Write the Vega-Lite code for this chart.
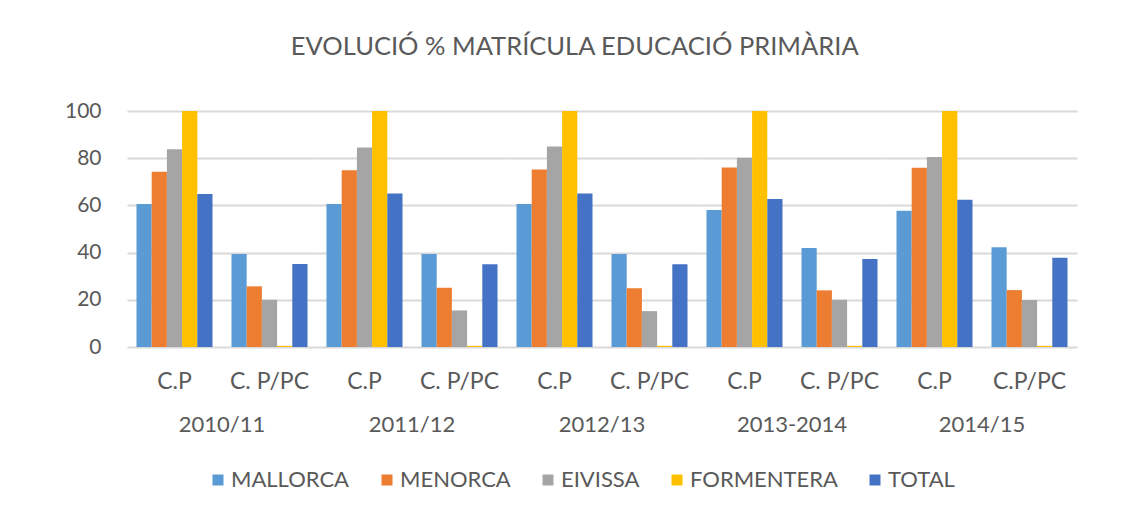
{
  "$schema": "https://vega.github.io/schema/vega-lite/v6.json",
  "background": "white",
  "padding": {"left": 64, "top": 34, "right": 20, "bottom": 10},
  "title": {"text": "EVOLUCIÓ  % MATRÍCULA EDUCACIÓ PRIMÀRIA", "fontSize": 25.5, "font": "Lato", "fontWeight": "normal", "color": "#595959", "anchor": "middle", "dx": 4, "offset": 40},
  "data": {"values": [
    {"year": "2010/11", "cat": "C.P", "island": "MALLORCA", "value": 60.6},
    {"year": "2010/11", "cat": "C.P", "island": "MENORCA", "value": 74.3},
    {"year": "2010/11", "cat": "C.P", "island": "EIVISSA", "value": 83.8},
    {"year": "2010/11", "cat": "C.P", "island": "FORMENTERA", "value": 100},
    {"year": "2010/11", "cat": "C.P", "island": "TOTAL", "value": 64.8},
    {"year": "2010/11", "cat": "C. P/PC", "island": "MALLORCA", "value": 39.4},
    {"year": "2010/11", "cat": "C. P/PC", "island": "MENORCA", "value": 25.7},
    {"year": "2010/11", "cat": "C. P/PC", "island": "EIVISSA", "value": 20},
    {"year": "2010/11", "cat": "C. P/PC", "island": "FORMENTERA", "value": 0.5},
    {"year": "2010/11", "cat": "C. P/PC", "island": "TOTAL", "value": 35.2},
    {"year": "2011/12", "cat": "C.P", "island": "MALLORCA", "value": 60.6},
    {"year": "2011/12", "cat": "C.P", "island": "MENORCA", "value": 74.9},
    {"year": "2011/12", "cat": "C.P", "island": "EIVISSA", "value": 84.5},
    {"year": "2011/12", "cat": "C.P", "island": "FORMENTERA", "value": 100},
    {"year": "2011/12", "cat": "C.P", "island": "TOTAL", "value": 65},
    {"year": "2011/12", "cat": "C. P/PC", "island": "MALLORCA", "value": 39.4},
    {"year": "2011/12", "cat": "C. P/PC", "island": "MENORCA", "value": 25.1},
    {"year": "2011/12", "cat": "C. P/PC", "island": "EIVISSA", "value": 15.5},
    {"year": "2011/12", "cat": "C. P/PC", "island": "FORMENTERA", "value": 0.5},
    {"year": "2011/12", "cat": "C. P/PC", "island": "TOTAL", "value": 35.1},
    {"year": "2012/13", "cat": "C.P", "island": "MALLORCA", "value": 60.6},
    {"year": "2012/13", "cat": "C.P", "island": "MENORCA", "value": 75.2},
    {"year": "2012/13", "cat": "C.P", "island": "EIVISSA", "value": 85},
    {"year": "2012/13", "cat": "C.P", "island": "FORMENTERA", "value": 100},
    {"year": "2012/13", "cat": "C.P", "island": "TOTAL", "value": 65},
    {"year": "2012/13", "cat": "C. P/PC", "island": "MALLORCA", "value": 39.4},
    {"year": "2012/13", "cat": "C. P/PC", "island": "MENORCA", "value": 24.9},
    {"year": "2012/13", "cat": "C. P/PC", "island": "EIVISSA", "value": 15.2},
    {"year": "2012/13", "cat": "C. P/PC", "island": "FORMENTERA", "value": 0.5},
    {"year": "2012/13", "cat": "C. P/PC", "island": "TOTAL", "value": 35.1},
    {"year": "2013-2014", "cat": "C.P", "island": "MALLORCA", "value": 58.1},
    {"year": "2013-2014", "cat": "C.P", "island": "MENORCA", "value": 76.1},
    {"year": "2013-2014", "cat": "C.P", "island": "EIVISSA", "value": 80.2},
    {"year": "2013-2014", "cat": "C.P", "island": "FORMENTERA", "value": 100},
    {"year": "2013-2014", "cat": "C.P", "island": "TOTAL", "value": 62.7},
    {"year": "2013-2014", "cat": "C. P/PC", "island": "MALLORCA", "value": 41.9},
    {"year": "2013-2014", "cat": "C. P/PC", "island": "MENORCA", "value": 24},
    {"year": "2013-2014", "cat": "C. P/PC", "island": "EIVISSA", "value": 20},
    {"year": "2013-2014", "cat": "C. P/PC", "island": "FORMENTERA", "value": 0.5},
    {"year": "2013-2014", "cat": "C. P/PC", "island": "TOTAL", "value": 37.3},
    {"year": "2014/15", "cat": "C.P", "island": "MALLORCA", "value": 57.7},
    {"year": "2014/15", "cat": "C.P", "island": "MENORCA", "value": 76},
    {"year": "2014/15", "cat": "C.P", "island": "EIVISSA", "value": 80.5},
    {"year": "2014/15", "cat": "C.P", "island": "FORMENTERA", "value": 100},
    {"year": "2014/15", "cat": "C.P", "island": "TOTAL", "value": 62.4},
    {"year": "2014/15", "cat": "C.P/PC", "island": "MALLORCA", "value": 42.3},
    {"year": "2014/15", "cat": "C.P/PC", "island": "MENORCA", "value": 24.1},
    {"year": "2014/15", "cat": "C.P/PC", "island": "EIVISSA", "value": 19.9},
    {"year": "2014/15", "cat": "C.P/PC", "island": "FORMENTERA", "value": 0.5},
    {"year": "2014/15", "cat": "C.P/PC", "island": "TOTAL", "value": 37.8}
  ]},
  "facet": {
    "column": {
      "field": "year", "type": "nominal",
      "sort": ["2010/11", "2011/12", "2012/13", "2013-2014", "2014/15"],
      "title": null,
      "header": {"labelOrient": "bottom", "labelFontSize": 22, "labelFont": "Lato", "labelColor": "#595959", "labelPadding": 22}
    }
  },
  "spacing": 0,
  "resolve": {"scale": {"x": "independent", "xOffset": "independent"}},
  "spec": {
    "width": 190,
    "height": 236,
    "mark": {"type": "bar"},
    "encoding": {
      "x": {
        "field": "cat", "type": "nominal", "sort": null,
        "scale": {"paddingInner": 0.2, "paddingOuter": 0.1},
        "axis": {"title": null, "labelAngle": 0, "labelFontSize": 23, "labelFont": "Lato", "labelColor": "#595959", "ticks": false, "domain": false, "labelPadding": 23}
      },
      "xOffset": {"field": "island", "type": "nominal", "sort": ["MALLORCA", "MENORCA", "EIVISSA", "FORMENTERA", "TOTAL"], "scale": {"paddingInner": 0}},
      "y": {
        "field": "value", "type": "quantitative",
        "scale": {"domain": [0, 100]},
        "axis": {"title": null, "values": [0, 20, 40, 60, 80, 100], "labelFontSize": 21, "labelFont": "Lato", "labelColor": "#595959", "ticks": false, "domain": false, "labelPadding": 26, "grid": true, "gridColor": "#D9D9D9", "gridWidth": 2}
      },
      "color": {
        "field": "island", "type": "nominal",
        "sort": ["MALLORCA", "MENORCA", "EIVISSA", "FORMENTERA", "TOTAL"],
        "scale": {"domain": ["MALLORCA", "MENORCA", "EIVISSA", "FORMENTERA", "TOTAL"], "range": ["#5B9BD5", "#ED7D31", "#A5A5A5", "#FFC000", "#4472C4"]},
        "legend": {"title": null, "orient": "none", "legendX": 80, "legendY": 358, "direction": "horizontal", "symbolType": "square", "symbolSize": 121, "symbolStrokeWidth": 0, "labelFontSize": 22, "labelFont": "Lato", "labelColor": "#595959", "columnPadding": 26, "labelOffset": 2}
      }
    }
  },
  "config": {"view": {"stroke": null}, "axis": {"gridColor": "#D9D9D9"}}
}
